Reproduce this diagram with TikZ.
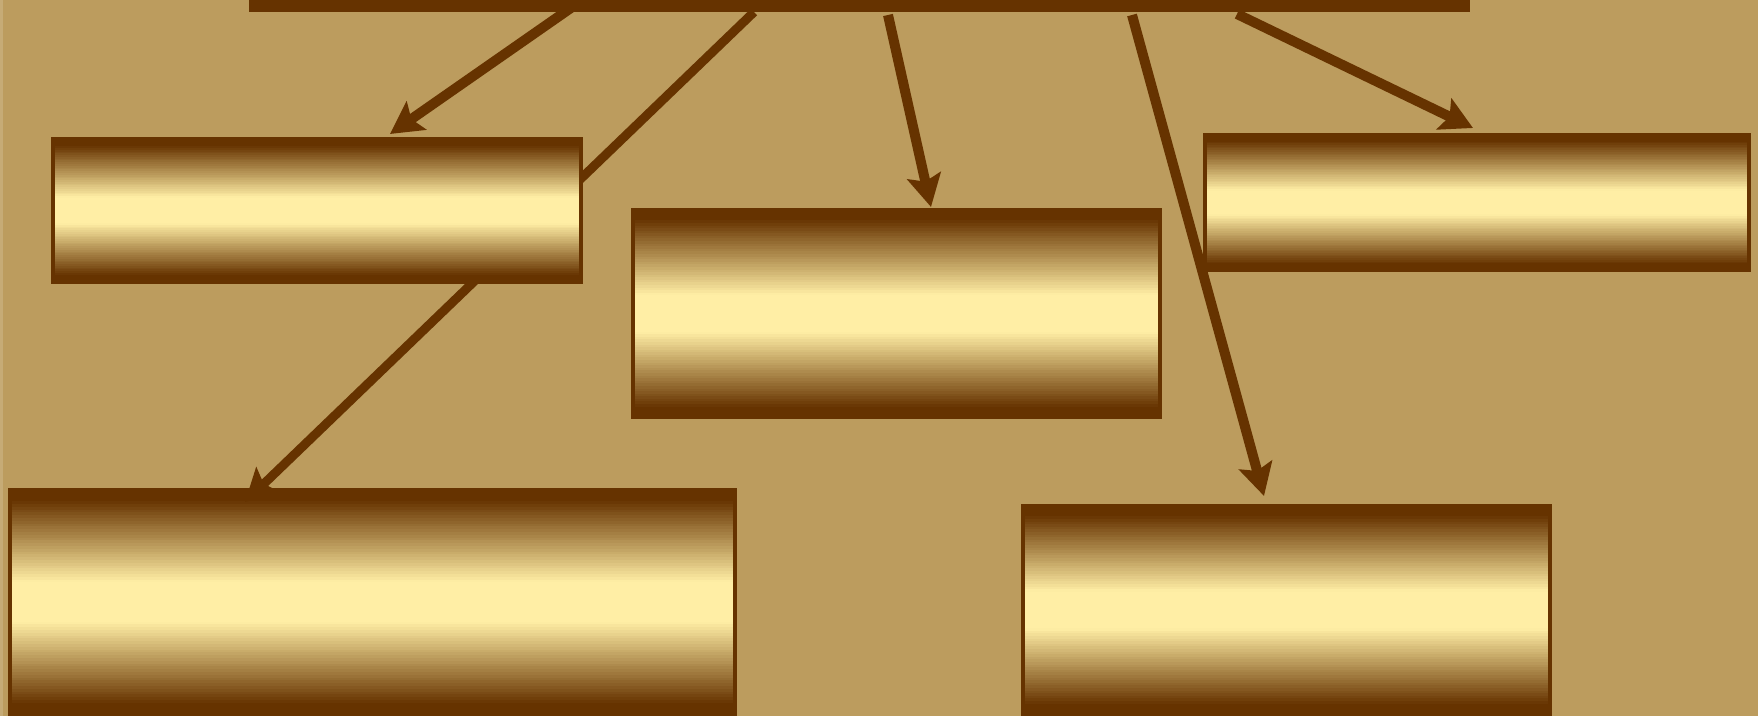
\documentclass[tikz,border=0pt]{standalone}
\usetikzlibrary{calc,arrows.meta}
\definecolor{chartBack}{RGB}{188,156,94}
\definecolor{chartBrown}{RGB}{102,51,0}
\definecolor{chartCream}{RGB}{255,238,165}
\pgfdeclarelayer{under}
\pgfsetlayers{under,main}
\tikzset{
  goldbox/.style={draw=chartBrown, line width=4pt, rectangle, inner sep=0pt, outer sep=0pt,
    path picture={
      % vertical brown-cream-brown bands
      \foreach \k in {0,...,79} {
        \pgfmathsetmacro\mix{100*min(max((abs(\k-39.5)/39.5-0.18)/0.74,0),1)}
        \fill[chartBrown!\mix!chartCream]
          ($(path picture bounding box.north west)!\k/80!(path picture bounding box.south west)$)
          rectangle ($(path picture bounding box.north east)!{min(\k+1.6,80)/80}!(path picture bounding box.south east)$);
      }
    }},
  linkarrow/.style={draw=chartBrown, line width=10pt, -{Stealth[length=32pt,width=34pt,inset=6pt]}}
}
\begin{document}
\begin{tikzpicture}[x=1pt, y=1pt]
% page frame, 1758 x 716
\useasboundingbox (0,0) rectangle (1758,716);
\clip (0,0) rectangle (1758,716);
% Left box on top of the long arrow
\node[goldbox, minimum width=528pt, minimum height=143pt] (box1) at (317,505.5) {};
\begin{pgfonlayer}{under}
  \fill[chartBack] (0,0) rectangle (1758,716);
  \fill[chartBack!85!white] (0,0) rectangle (3,716);
  % Top bar, mostly above the page
  \node[goldbox, minimum width=1217pt, minimum height=200pt] (root) at (859.5,806) {};
  % Boxes below
  \node[goldbox, minimum width=725pt, minimum height=224pt] (box4) at (372.5,114) {};
  \node[goldbox, minimum width=527pt, minimum height=208pt] (box5) at (1286.5,106) {};
  \node[goldbox, minimum width=527pt, minimum height=207pt] (box2) at (896.5,402.5) {};
  \node[goldbox, minimum width=544pt, minimum height=135pt] (box3) at (1477,513.5) {};
  % long arrow, passes behind box1
  \draw[linkarrow, line width=9pt] ($(root.south west)+(503,-2)$) -- ($(box4.north west)+(235,-12)$);
\end{pgfonlayer}
% Arrows from the top bar
\draw[linkarrow] ($(root.south west)+(327,7)$) -- ($(box1.north west)+(337,5)$);
\draw[linkarrow] ($(root.south west)+(637,-5)$) -- ($(box2.north west)+(298,3)$);
\draw[linkarrow] ($(root.south west)+(881,-5)$) -- ($(box5.north west)+(241,10)$);
\draw[linkarrow] ($(root.south west)+(986,-4)$) -- ($(box3.north west)+(268,7)$);
\end{tikzpicture}
\end{document}
